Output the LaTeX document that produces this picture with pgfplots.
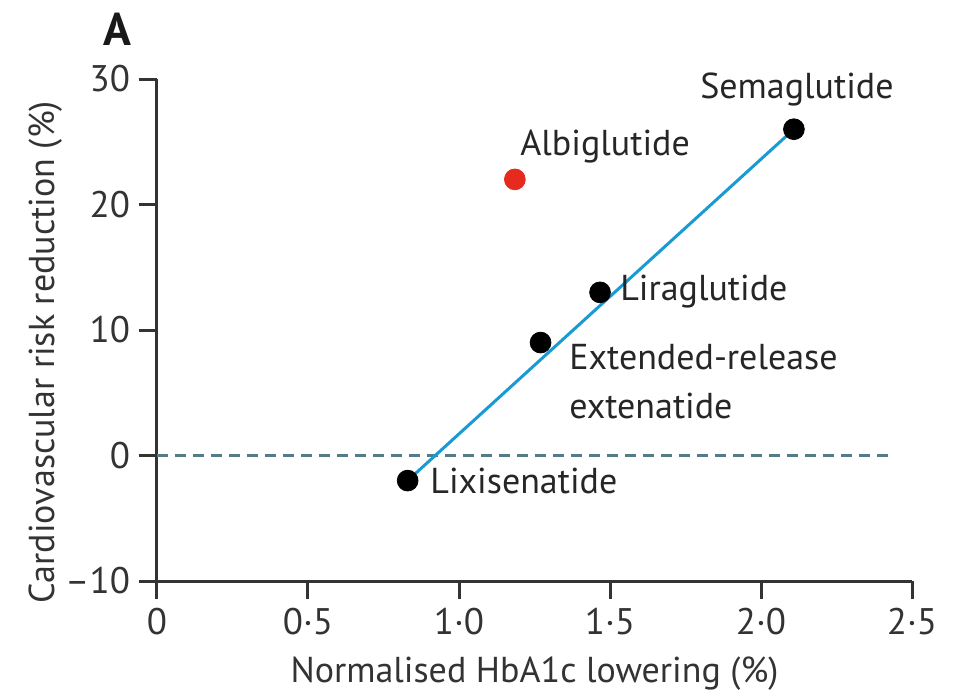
\documentclass[border=0pt]{standalone}
\usepackage{fontspec}
\setmainfont{PT Sans}
\usepackage{pgfplots}
\pgfplotsset{compat=1.18}

\definecolor{fitblue}{HTML}{1A9AD2}
\definecolor{albired}{HTML}{E62A1E}
\definecolor{refdash}{HTML}{557C86}
\definecolor{axisgray}{HTML}{333333}

\begin{document}
\begin{tikzpicture}
\path[use as bounding box] (-78.5pt,-58pt) rectangle (398pt,290.5pt);
\begin{axis}[
  at={(0pt,0pt)}, anchor=south west,
  scale only axis,
  width=377.5pt, height=251pt,
  xmin=0, xmax=2.5, ymin=-10, ymax=30,
  axis x line*=bottom, axis y line*=left,
  axis line style={line width=1.5pt, color=axisgray},
  xtick align=outside, ytick align=outside,
  major tick length=9pt,
  every major tick/.append style={line width=1.5pt, draw=axisgray},
  xtick={0,0.5,1,1.5,2,2.5},
  xticklabels={0,0·5,1·0,1·5,2·0,2·5},
  ytick={-10,0,10,20,30},
  yticklabels={–10,0,10,20,30},
  tick label style={font=\fontsize{18.5}{22}\selectfont, text=axisgray},
  xticklabel style={yshift=-1pt},
  yticklabel style={xshift=-1pt},
  xlabel={Normalised HbA1c lowering (\%)},
  ylabel={Cardiovascular risk reduction (\%)},
  label style={font=\fontsize{18}{22}\selectfont, text=axisgray},
  xlabel style={at={(axis description cs:0.5,-0.185)}, anchor=center},
  ylabel style={at={(axis description cs:-0.148,0.456)}, anchor=center},
  clip=false,
]
% outward tick marks on both axes
\pgfplotsinvokeforeach{0,0.5,1,1.5,2,2.5}{
  \draw[axisgray, line width=1.5pt] (axis cs:#1,-10) -- ++(0pt,-9pt);
}
\pgfplotsinvokeforeach{-10,0,10,20,30}{
  \draw[axisgray, line width=1.5pt] (axis cs:0,#1) -- ++(-9pt,0pt);
}
% reference line at zero
\addplot[refdash, line width=1.5pt, dash pattern=on 5.5pt off 3.5pt]
  coordinates {(0,0) (2.437,0)};
% fitted line through the marketed agents
\addplot[fitblue, line width=1.5pt] coordinates {(0.83,-2) (2.109,26)};
% trial results
\addplot[only marks, mark=*, mark size=5.2pt, black]
  coordinates {(0.83,-2) (1.27,9) (1.467,13) (2.109,26)};
\addplot[only marks, mark=*, mark size=5.2pt, albired, mark options={draw=albired, fill=albired}]
  coordinates {(1.185,22)};

\begin{scope}[every node/.style={font=\fontsize{18}{24.5}\selectfont, text=black!85, inner sep=0pt}]
\node[anchor=center] at (axis cs:2.119,29.2) {Semaglutide};
\node[anchor=west] at (axis cs:1.202,24.6) {Albiglutide};
\node[anchor=west] at (axis cs:1.533,13.1) {Liraglutide};
\node[anchor=west, align=left] at (axis cs:1.364,5.9) {Extended-release\\extenatide};
\node[anchor=west] at (axis cs:0.904,-2.0) {Lixisenatide};
\end{scope}
\node[font=\fontsize{23}{26}\selectfont\bfseries, text=black!90] at (axis description cs:-0.053,1.10) {A};
\end{axis}
\end{tikzpicture}
\end{document}
